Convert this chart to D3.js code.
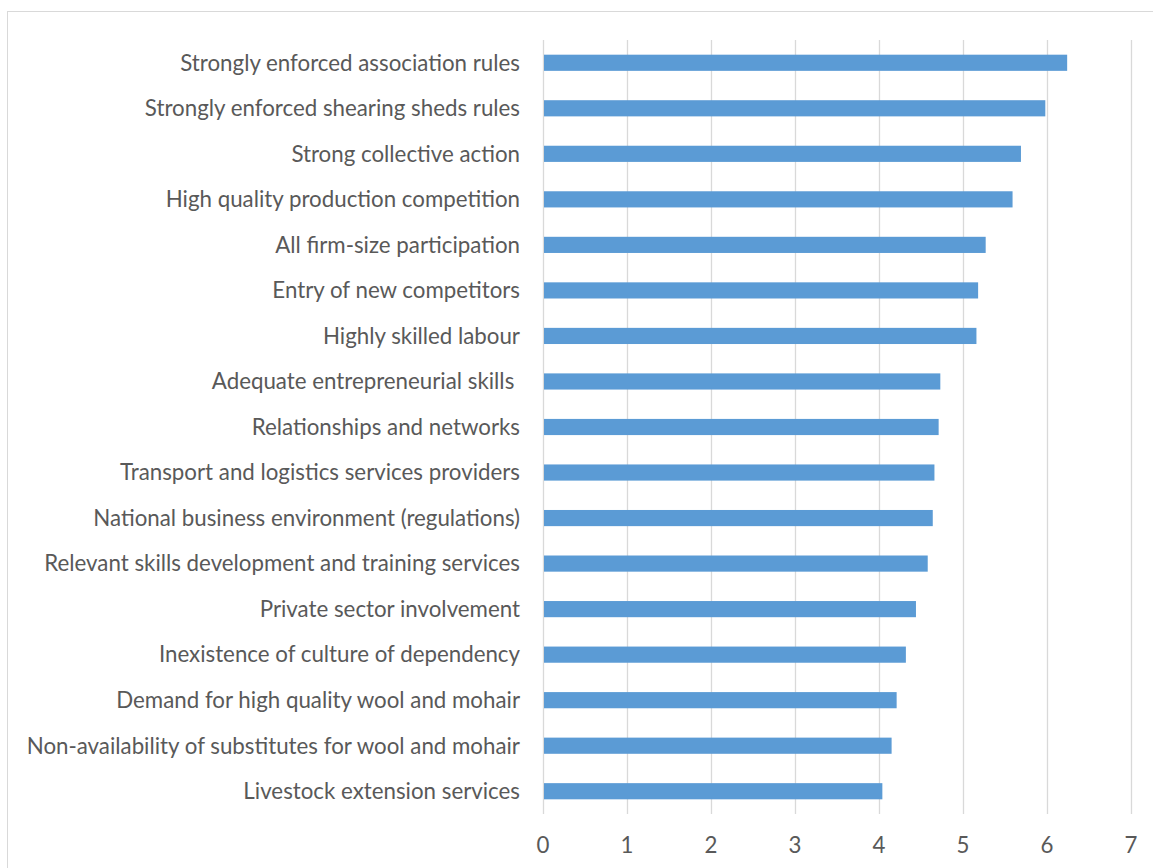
<!DOCTYPE html>
<html>
<head>
<meta charset="utf-8">
<script src="https://cdn.jsdelivr.net/npm/d3@7"></script>
<style>
  html, body { margin: 0; padding: 0; background: #fff; }
  svg { display: block; }
  text { font-family: Lato, "Open Sans", sans-serif; fill: #595959; }
</style>
</head>
<body>
<svg id="chart" width="1153" height="868"></svg>
<script>
// Factor labels, top to bottom
const categories = [
  "Strongly enforced association rules",
  "Strongly enforced shearing sheds rules",
  "Strong collective action",
  "High quality production competition",
  "All firm-size participation",
  "Entry of new competitors",
  "Highly skilled labour",
  "Adequate entrepreneurial skills ",
  "Relationships and networks",
  "Transport and logistics services providers",
  "National business environment (regulations)",
  "Relevant skills development and training services",
  "Private sector involvement",
  "Inexistence of culture of dependency",
  "Demand for high quality wool and mohair",
  "Non-availability of substitutes for wool and mohair",
  "Livestock extension services"
];

// Mean score per factor
const scores = [6.24, 5.98, 5.69, 5.59, 5.27, 5.18, 5.16, 4.73, 4.71, 4.66, 4.64, 4.58, 4.44, 4.32, 4.21, 4.15, 4.04];

// Axis ticks
const xTicks = [0, 1, 2, 3, 4, 5, 6, 7];

const svg = d3.select("#chart");

// Chart frame
svg.append("rect")
  .attr("x", 7.5).attr("y", 11.5)
  .attr("width", 1200).attr("height", 900)
  .attr("fill", "none").attr("stroke", "#d9d9d9").attr("stroke-width", 1);

const plot = { left: 543, right: 1131, top: 40, bottom: 814 };

const x = d3.scaleLinear().domain([0, 7]).range([plot.left, plot.right]);
const y = d3.scaleBand().domain(categories).range([plot.top, plot.bottom]).paddingInner(0.645).paddingOuter(0.3225);

// Vertical gridlines
svg.append("g")
  .selectAll("line")
  .data(xTicks)
  .join("line")
  .attr("x1", d => x(d) + 0.5).attr("x2", d => x(d) + 0.5)
  .attr("y1", plot.top).attr("y2", plot.bottom)
  .attr("stroke", "#d9d9d9").attr("stroke-width", 1.3);

// Bars
svg.append("g")
  .selectAll("rect")
  .data(categories)
  .join("rect")
  .attr("x", x(0) + 1)
  .attr("y", d => y(d))
  .attr("width", (d, i) => x(scores[i]) - x(0) - 1)
  .attr("height", y.bandwidth())
  .attr("fill", "#5b9bd5");

// Category labels
svg.append("g")
  .selectAll("text")
  .data(categories)
  .join("text")
  .attr("x", 520)
  .attr("y", d => y(d) + y.bandwidth() / 2)
  .attr("dy", "0.35em")
  .attr("text-anchor", "end")
  .attr("font-size", 22.3)
  .style("white-space", "pre")
  .text(d => d);

// X-axis tick labels
svg.append("g")
  .selectAll("text")
  .data(xTicks)
  .join("text")
  .attr("x", d => x(d))
  .attr("y", 845)
  .attr("dy", "0.35em")
  .attr("text-anchor", "middle")
  .attr("font-size", 22.3)
  .text(d => d);
</script>
</body>
</html>
